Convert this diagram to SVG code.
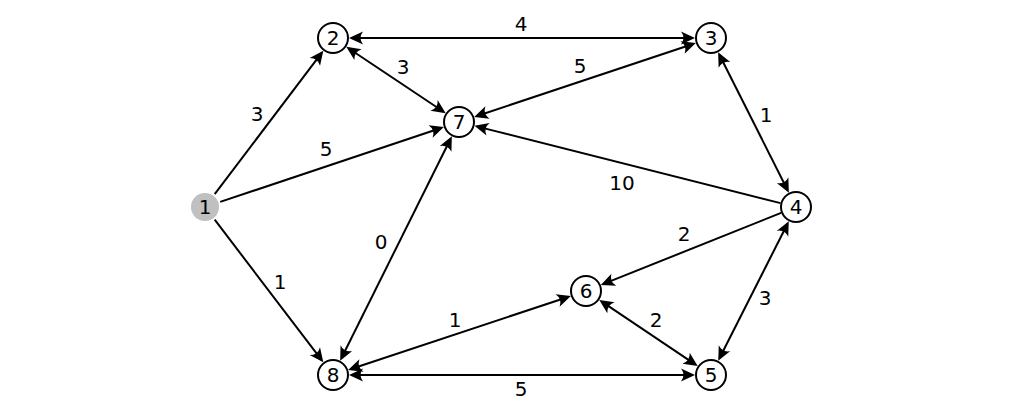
<svg xmlns="http://www.w3.org/2000/svg" width="1020" height="420" viewBox="0 0 1020 420">
<style>
.e{stroke:#000;stroke-width:2;fill:none}
.n{fill:#fff;stroke:#000;stroke-width:2}
.s{fill:#c0c0c0;stroke:none}
text{font-family:"DejaVu Sans","Liberation Sans",sans-serif;font-size:20px;fill:#000;text-anchor:middle}
</style>
<defs>
<marker id="ah" viewBox="-12 -7 16 14" refX="0" refY="0" markerWidth="16" markerHeight="14" markerUnits="userSpaceOnUse" orient="auto-start-reverse">
<path d="M3,0 L-11,-6.5 Q-6,0 -11,6.5 Z" fill="#000"/>
</marker>
</defs>
<rect width="1020" height="420" fill="#fff"/>
<g id="connectors">
<line class="e" x1="214.7" y1="194.2" x2="321.5" y2="53.1" marker-end="url(#ah)"/>
<line class="e" x1="220.2" y1="201.9" x2="441" y2="128" marker-end="url(#ah)"/>
<line class="e" x1="214.7" y1="219.7" x2="321.5" y2="359.9" marker-end="url(#ah)"/>
<line class="e" x1="352" y1="38" x2="692" y2="38" marker-start="url(#ah)" marker-end="url(#ah)"/>
<line class="e" x1="348.8" y1="48.5" x2="443.2" y2="111.5" marker-start="url(#ah)" marker-end="url(#ah)"/>
<line class="e" x1="477" y1="116" x2="693" y2="44" marker-start="url(#ah)" marker-end="url(#ah)"/>
<line class="e" x1="719.5" y1="55" x2="787.5" y2="190" marker-start="url(#ah)" marker-end="url(#ah)"/>
<line class="e" x1="780.5" y1="203.1" x2="477.4" y2="126.6" marker-end="url(#ah)"/>
<line class="e" x1="781.1" y1="212.9" x2="603.6" y2="283.9" marker-end="url(#ah)"/>
<line class="e" x1="787.4" y1="224" x2="719.6" y2="358" marker-start="url(#ah)" marker-end="url(#ah)"/>
<line class="e" x1="601.8" y1="301.6" x2="695.2" y2="364.4" marker-start="url(#ah)" marker-end="url(#ah)"/>
<line class="e" x1="351" y1="369" x2="568" y2="297" marker-start="url(#ah)" marker-end="url(#ah)"/>
<line class="e" x1="352" y1="375" x2="692" y2="375" marker-start="url(#ah)" marker-end="url(#ah)"/>
<line class="e" x1="341.5" y1="358" x2="450.5" y2="139" marker-start="url(#ah)" marker-end="url(#ah)"/>
<text x="257" y="121">3</text>
<text x="326" y="156">5</text>
<text x="280" y="289">1</text>
<text x="521" y="31">4</text>
<text x="403" y="74">3</text>
<text x="580" y="73">5</text>
<text x="766" y="122">1</text>
<text x="622" y="190">10</text>
<text x="684" y="241">2</text>
<text x="765" y="305">3</text>
<text x="656" y="327">2</text>
<text x="455" y="327">1</text>
<text x="521" y="396">5</text>
<text x="381" y="249">0</text>
</g>
<g id="node1"><circle class="s" cx="205" cy="207" r="14"/><text x="205" y="214">1</text></g>
<g id="node2"><circle class="n" cx="333" cy="38" r="15"/><text x="333" y="45">2</text></g>
<g id="node3"><circle class="n" cx="711" cy="38" r="15"/><text x="711" y="45">3</text></g>
<g id="node7"><circle class="n" cx="459" cy="122" r="15"/><text x="459" y="129">7</text></g>
<g id="node4"><circle class="n" cx="796" cy="207" r="15"/><text x="796" y="214">4</text></g>
<g id="node6"><circle class="n" cx="586" cy="291" r="15"/><text x="586" y="298">6</text></g>
<g id="node5"><circle class="n" cx="711" cy="375" r="15"/><text x="711" y="382">5</text></g>
<g id="node8"><circle class="n" cx="333" cy="375" r="15"/><text x="333" y="382">8</text></g>
</svg>
